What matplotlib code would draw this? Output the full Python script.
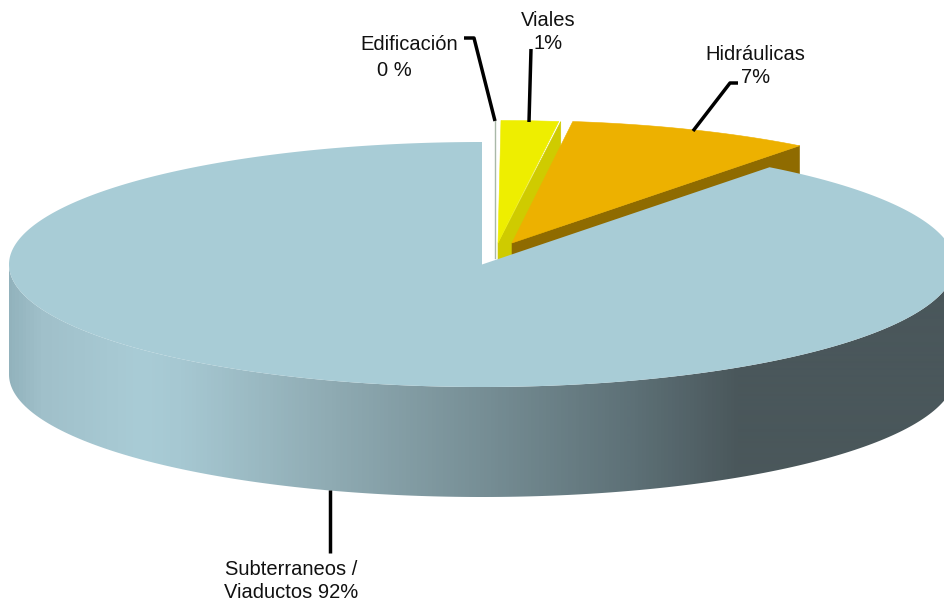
import numpy as np
import matplotlib
matplotlib.use("Agg")
import matplotlib.pyplot as plt
from matplotlib.colors import LinearSegmentedColormap
from matplotlib.patches import Polygon

plt.rcParams['font.family'] = ['Liberation Sans', 'DejaVu Sans']

# swept shares as they look in the picture, the printed labels are rounded differently
categories = ["Edificación", "Viales", "Hidráulicas", "Subterraneos"]
shares = [0.1, 1.95, 8.35, 89.6]
label_texts = ["Edificación", "0 %", "Viales\n1%", "Hidráulicas\n7%", "Subterraneos /\nViaductos 92%"]

W, H = 945, 602
RX, RY, DEPTH = 473, 122.5, 110
CX, CY = 482, 264.5

top_colors = {"Viales": "#eeee00", "Hidráulicas": "#edb100", "Subterraneos": "#a8ccd6"}
side_colors = {"Viales": "#cfcb00", "Hidráulicas": "#8f6b00"}
apex = {"Viales": (498, 243), "Hidráulicas": (512, 243)}


def arc(cx, cy, a0, a1, n=200):
    t = np.radians(np.linspace(a0, a1, n))
    return np.column_stack([cx + RX * np.cos(t), cy - RY * np.sin(t)])


# angles run clockwise from the top of the ellipse
ends = 90 - np.cumsum(shares) * 3.6
starts = np.r_[90, ends[:-1]]
angle = {c: (s, e) for c, s, e in zip(categories, starts, ends)}

fig = plt.figure(figsize=(W / 100, H / 100), dpi=100)
ax = fig.add_axes([0, 0, 1, 1])
ax.set_xlim(0, W)
ax.set_ylim(H, 0)
ax.axis("off")

# thin sliver for Edificación
ax.plot([494.5, 494.5], [121, 258], color="#a9b8a8", lw=1.0, zorder=1)

# exploded slices, cut face first and then the top
z = 2
for name in ["Viales", "Hidráulicas"]:
    a0, a1 = angle[name]
    px, py = apex[name]
    rim = arc(px, py, a0, a1)
    edge = rim[-1]
    extra = 2 if name == "Viales" else 0
    side = [(px, py), (edge[0] + extra, edge[1]), (edge[0] + extra, edge[1] + DEPTH), (px, py + DEPTH)]
    ax.add_patch(Polygon(side, closed=True, fc=side_colors[name], ec=side_colors[name], lw=0.4, zorder=z))
    top = np.vstack([[px, py], rim])
    ax.add_patch(Polygon(top, closed=True, fc=top_colors[name], ec=top_colors[name], lw=0.4, zorder=z + 1))
    z += 2

# wall of the large slice with the horizontal shading
shade = LinearSegmentedColormap.from_list("wall", [
    (0.0, "#8fb0ba"), (40 / 945, "#a0c0ca"), (140 / 945, "#a9ccd6"), (180 / 945, "#a6c8d2"),
    (330 / 945, "#8fabb3"), (480 / 945, "#778f96"), (640 / 945, "#5c6f75"),
    (740 / 945, "#4a575b"), (1.0, "#4a575b"),
])
grad = np.linspace(0, 1, 945).reshape(1, -1)
im = ax.imshow(grad, cmap=shade, extent=[0, W, H, 0], aspect="auto", zorder=10)
lower = arc(CX, CY, 180, 360)
wall = Polygon(np.vstack([lower, (lower + [0, DEPTH])[::-1]]), closed=True, transform=ax.transData, fc="none", ec="none")
ax.add_patch(wall)
im.set_clip_path(wall)

# top of the large slice, goes the long way round from the top
rim = arc(CX, CY, 90, 90 + 3.6 * shares[3], 800)
ax.add_patch(Polygon(np.vstack([[CX, CY], rim]), closed=True, fc=top_colors["Subterraneos"], ec="none", zorder=11))

# leader lines
leaders = [
    ([464, 474, 495], [38, 38, 121]),
    ([531, 529], [49, 122]),
    ([738, 730, 693], [83, 83, 131]),
    ([330, 330], [490, 553]),
]
for xs, ys in leaders:
    ax.plot(xs, ys, color="black", lw=2.5, solid_joinstyle="round", solid_capstyle="butt", zorder=12)

size = 14.5
spacing = 1.3
ax.text(409.5, 44, label_texts[0], ha="center", va="center", fontsize=size, color="#111111")
ax.text(394, 70.5, label_texts[1], ha="center", va="center", fontsize=size, color="#111111")
ax.text(548.5, 32, label_texts[2], ha="center", va="center", fontsize=size, color="#111111", linespacing=spacing)
ax.text(755.5, 66, label_texts[3], ha="center", va="center", fontsize=size, color="#111111", linespacing=spacing)
ax.text(291, 581, label_texts[4], ha="center", va="center", fontsize=size, color="#111111", linespacing=spacing)

fig.savefig("out.png", dpi=100, facecolor="white")
